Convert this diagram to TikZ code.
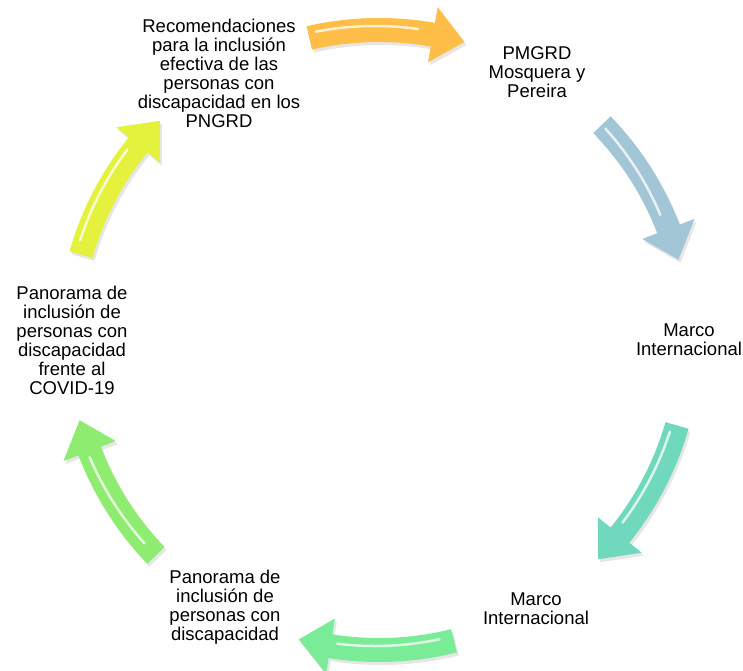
\documentclass[tikz,border=0pt]{standalone}
\usepackage{fontspec}
\setmainfont{Liberation Sans}
\usetikzlibrary{shadows}
\definecolor{naranja}{RGB}{255,190,72}
\definecolor{acero}{RGB}{162,198,214}
\definecolor{aguamarina}{RGB}{112,216,188}
\definecolor{verdeclaro}{RGB}{122,236,152}
\definecolor{verde}{RGB}{142,236,112}
\definecolor{amarillo}{RGB}{228,242,62}
\tikzset{
  etiqueta/.style={align=center, inner sep=0pt, text=black, font=\fontsize{18.5}{19}\selectfont},
}
% curved arrow on the circle: #1 = middle angle, #2 = colour
\newcommand{\flechaciclo}[2]{%
\fill[#2, shift={(centro)}, drop shadow={opacity=0.2, shadow xshift=2pt, shadow yshift=-3pt}]
  (#1+14:322) arc[start angle=#1+14, end angle=#1-9, radius=322] -- (#1-9:338) -- (#1-15:310)
  -- (#1-9:282) -- (#1-9:298) arc[start angle=#1-9, end angle=#1+14, radius=298] -- cycle;
\draw[white, opacity=0.75, line width=2.5pt, line cap=round, shift={(centro)}, shift={(-4,4)}]
  (#1+12:310) arc[start angle=#1+12, end angle=#1-7, radius=310];
}
\begin{document}
\begin{tikzpicture}[x=1pt, y=1pt]
\useasboundingbox (0,0) rectangle (743,670);
\coordinate (centro) at (379,330);
\node[etiqueta] (rec) at (219,597) {Recomendaciones\\para la inclusión\\efectiva de las\\personas con\\discapacidad en los\\PNGRD};
\node[etiqueta] (pmgrd) at (537,598) {PMGRD\\Mosquera y\\Pereira};
\node[etiqueta] (marco1) at (689,330) {Marco\\Internacional};
\node[etiqueta] (marco2) at (536,61) {Marco\\Internacional};
\node[etiqueta] (panorama) at (225,63) {Panorama de\\inclusión de\\personas con\\discapacidad};
\node[etiqueta] (covid) at (72,330) {Panorama de\\inclusión de\\personas con\\discapacidad\\frente al\\COVID-19};

\flechaciclo{89}{naranja}
\flechaciclo{30}{acero}
\flechaciclo{-30}{aguamarina}
\flechaciclo{-90}{verdeclaro}
\flechaciclo{-150}{verde}
\flechaciclo{150}{amarillo}

\end{tikzpicture}
\end{document}
